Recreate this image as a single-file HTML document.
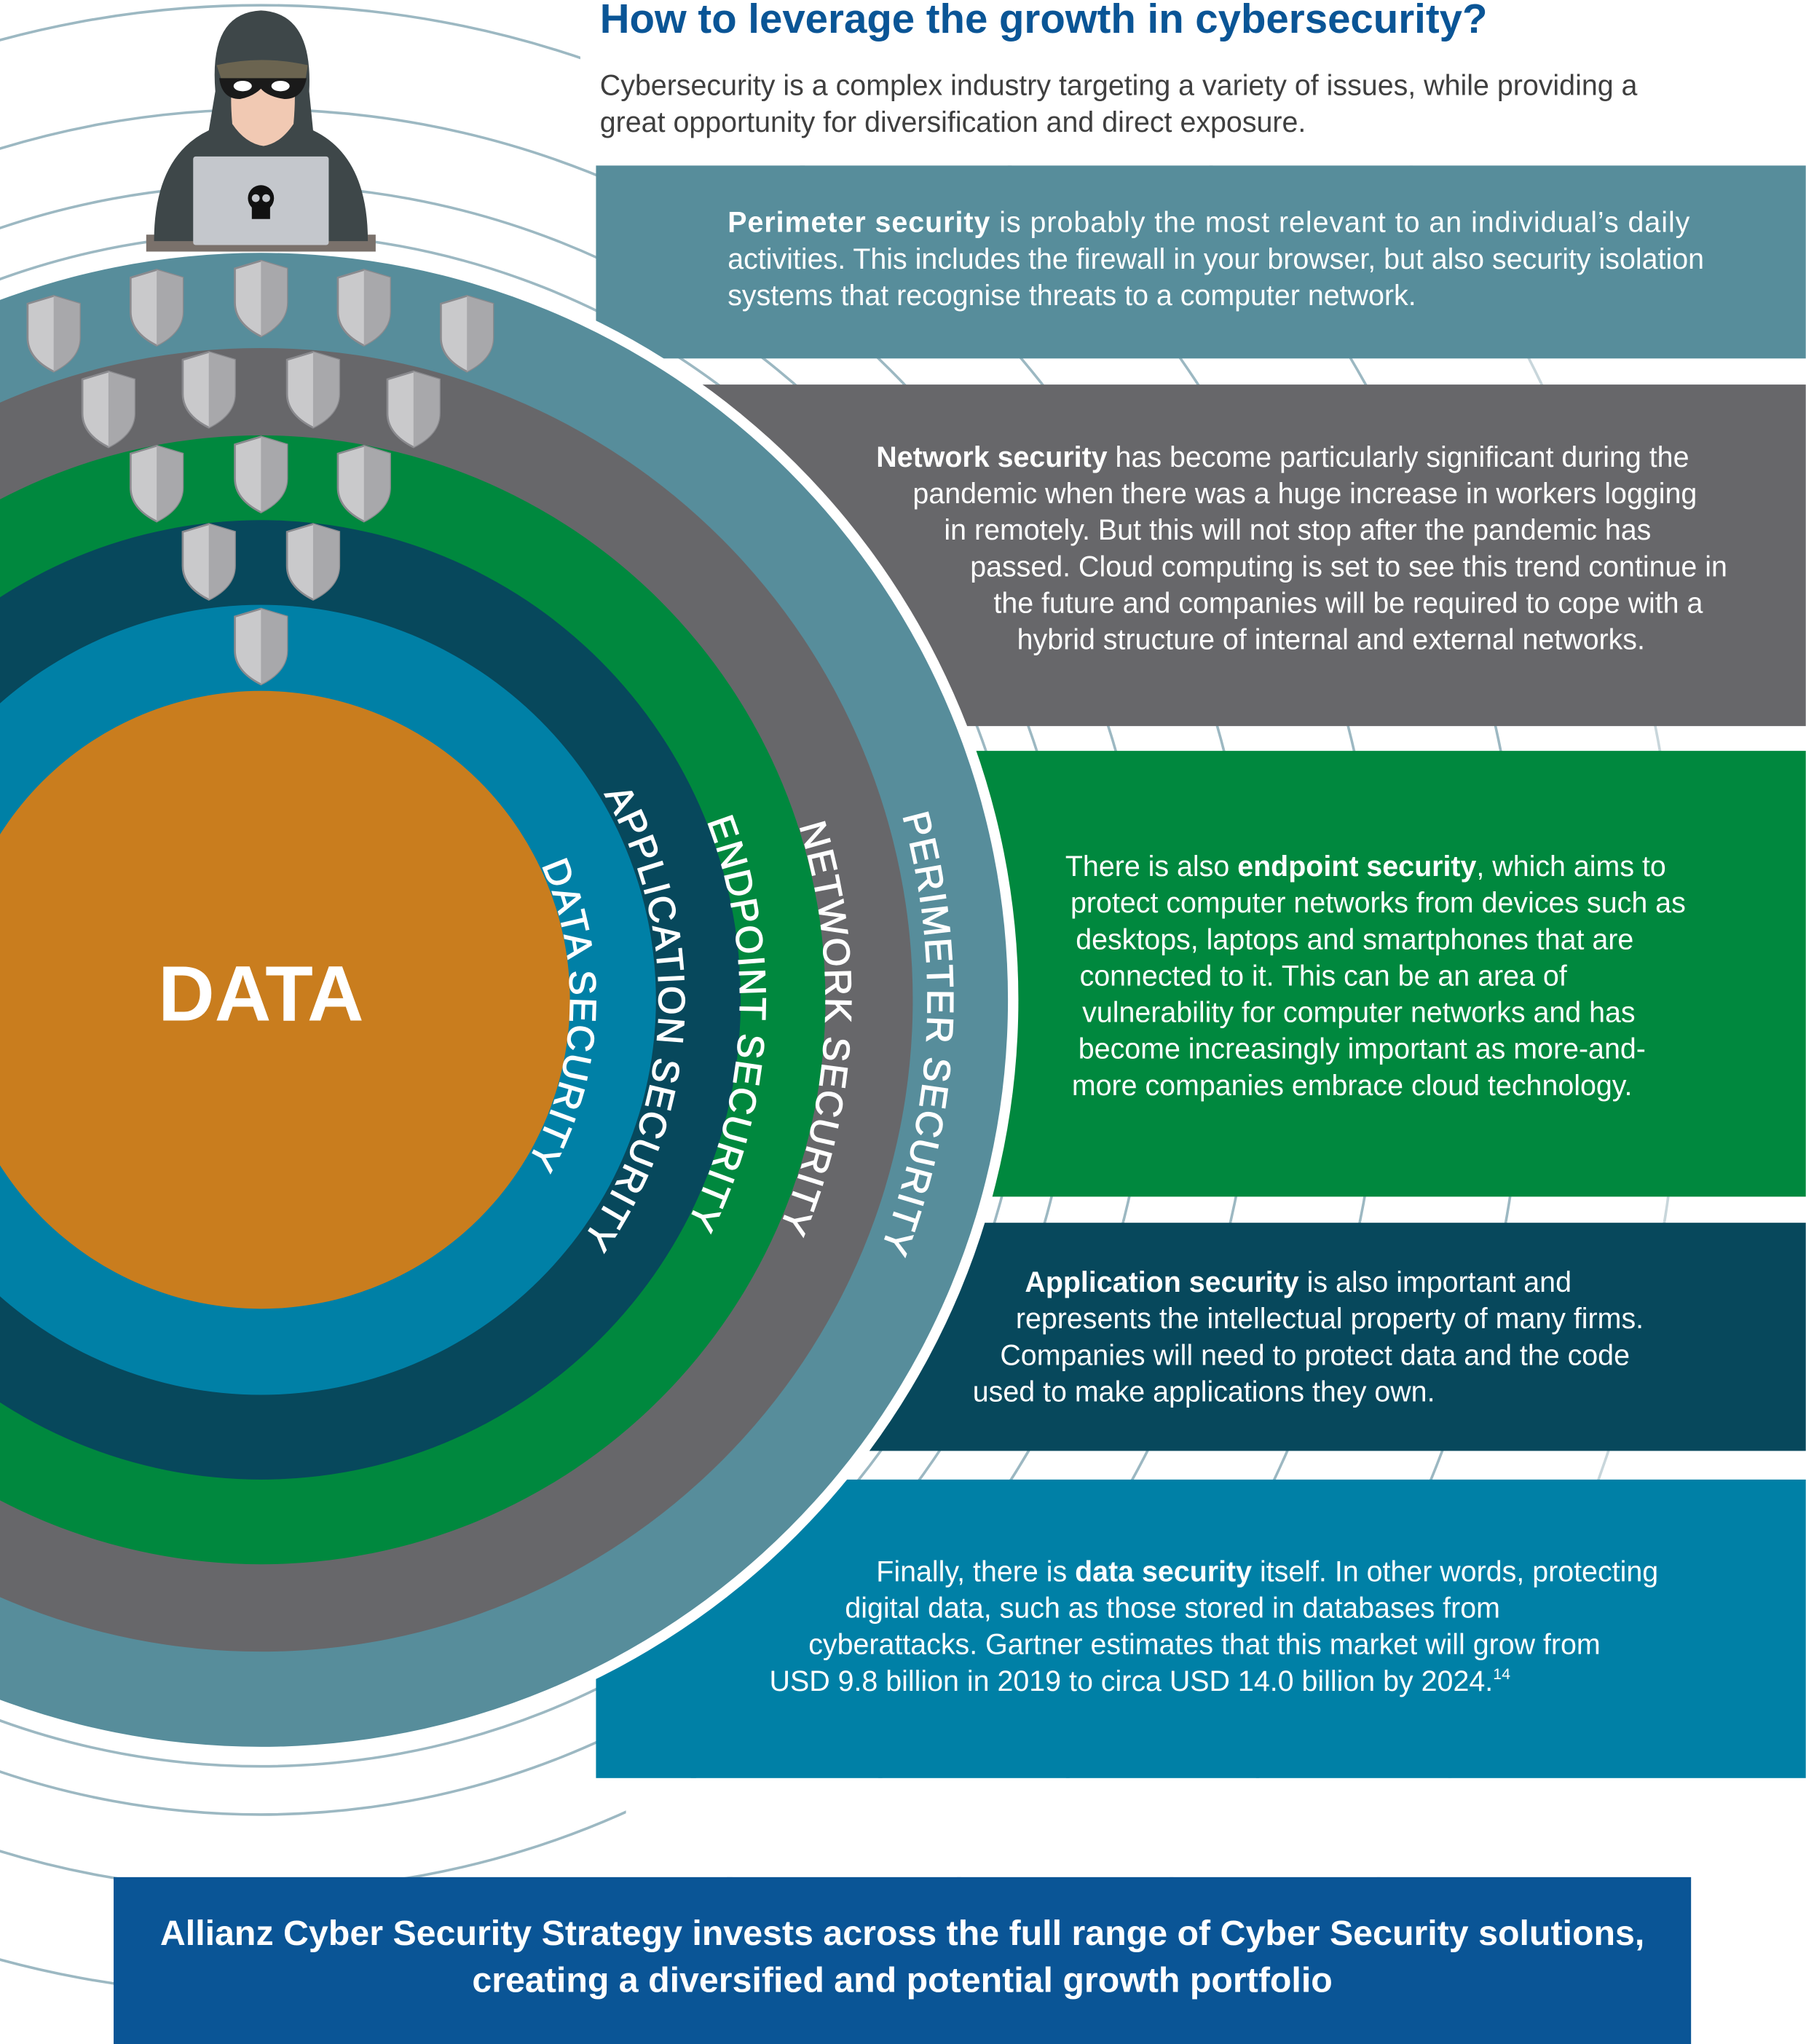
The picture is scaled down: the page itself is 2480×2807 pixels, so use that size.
<!DOCTYPE html>
<html><head><meta charset="utf-8"><style>
html,body{margin:0;padding:0;background:#fff;overflow:hidden;width:2480px;height:2807px;}
svg{display:block;}
text{font-family:"Liberation Sans",sans-serif;}
</style></head><body>
<svg width="2480" height="2807" viewBox="0 0 1385 1568" xmlns="http://www.w3.org/2000/svg">
<defs>
<g id="sh">
<path d="M-20,-22 L0,-28 L20,-22 L20,4 Q20,20 0,30 Q-20,20 -20,4 Z" fill="#c9c9cb" stroke="#8a8a8e" stroke-width="1.5"/>
<path d="M0,-28 L20,-22 L20,4 Q20,20 0,30 Z" fill="#a8a8ab"/>
</g>
</defs>
<g fill="none" stroke="#9cb8c2" stroke-width="2">
<circle cx="200" cy="767" r="588"/>
<circle cx="200" cy="767" r="625"/>
<circle cx="200" cy="767" r="683"/>
<circle cx="200" cy="767" r="763"/>
<circle cx="200" cy="767" r="860"/>
<circle cx="200" cy="767" r="970"/>
</g>
<g fill="none" stroke="#c8d6db" stroke-width="2">
<circle cx="200" cy="767" r="1090"/>
</g>
<rect x="445" y="0" width="940" height="127" fill="#fff"/>
<rect x="480" y="1364" width="905" height="76" fill="#fff"/>
<rect x="1297" y="1364" width="88" height="204" fill="#fff"/>
<rect x="457" y="127" width="928" height="148" fill="#578d9b"/>
<rect x="537" y="295" width="848" height="262" fill="#67676a"/>
<rect x="748" y="576" width="637" height="342" fill="#00883e"/>
<rect x="663" y="938" width="722" height="175" fill="#07485c"/>
<rect x="457" y="1135" width="928" height="229" fill="#0080a6"/>
<rect x="87" y="1440" width="1210" height="128" fill="#0a5596"/>
<circle cx="200" cy="767" r="581" fill="#fff"/>
<circle cx="200" cy="767" r="573" fill="#578d9b"/>
<circle cx="200" cy="767" r="500" fill="#67676a"/>
<circle cx="200" cy="767" r="433" fill="#00883e"/>
<circle cx="200" cy="767" r="368" fill="#07485c"/>
<circle cx="200" cy="767" r="303" fill="#0080a6"/>
<circle cx="200" cy="767" r="237" fill="#c97d1e"/>
<text x="200" y="783" text-anchor="middle" font-size="60" font-weight="bold" fill="#fff">DATA</text>
<g fill="#fff" stroke="#fff" stroke-width="0.7" font-size="28.5" letter-spacing="1.2">
<path id="p1" fill="none" stroke="none" d="M 459.5 317.5 A 527 527 0 0 1 459.5 1216.5"/>
<text><textPath href="#p1" startOffset="52.5%" text-anchor="middle">PERIMETER SECURITY</textPath></text>
<path id="p2" fill="none" stroke="none" d="M 421 385 A 450 450 0 0 1 421 1149"/>
<text><textPath href="#p2" startOffset="52.5%" text-anchor="middle">NETWORK SECURITY</textPath></text>
<path id="p3" fill="none" stroke="none" d="M 388 442 A 384 384 0 0 1 388 1092"/>
<text><textPath href="#p3" startOffset="52.5%" text-anchor="middle">ENDPOINT SECURITY</textPath></text>
<path id="p4" fill="none" stroke="none" d="M 356 498 A 317 317 0 0 1 356 1036"/>
<text><textPath href="#p4" startOffset="52.5%" text-anchor="middle">APPLICATION SECURITY</textPath></text>
<path id="p5" fill="none" stroke="none" d="M 323 556 A 252 252 0 0 1 323 978"/>
<text><textPath href="#p5" startOffset="52.5%" text-anchor="middle">DATA SECURITY</textPath></text>
</g>
<use href="#sh" x="41" y="255"/><use href="#sh" x="120" y="235"/><use href="#sh" x="200" y="228"/><use href="#sh" x="279" y="235"/><use href="#sh" x="358" y="255"/>
<use href="#sh" x="83" y="313"/><use href="#sh" x="160" y="298"/><use href="#sh" x="240" y="298"/><use href="#sh" x="317" y="313"/>
<use href="#sh" x="120" y="370"/><use href="#sh" x="200" y="363"/><use href="#sh" x="279" y="370"/>
<use href="#sh" x="160" y="430"/><use href="#sh" x="240" y="430"/>
<use href="#sh" x="200" y="495"/>
<rect x="112" y="180" width="176" height="13" fill="#7a716b"/>
<path d="M118,185 Q118,120 160,100 L165,70 Q160,10 200,8 Q240,10 237,70 L240,100 Q282,120 282,185 Z" fill="#3e4749"/>
<path d="M178,95 Q175,60 182,55 L222,55 Q228,60 225,95 Q215,110 202,112 Q188,110 178,95 Z" fill="#f1c9b3"/>
<path d="M166,50 Q200,42 236,50 L234,62 L170,62 Z" fill="#6b6450"/>
<path d="M168,60 L235,60 Q232,76 218,76 Q205,74 200,68 Q194,74 184,76 Q170,76 168,60 Z" fill="#1a1a1a"/>
<ellipse cx="186" cy="66" rx="7" ry="4" fill="#fff"/><ellipse cx="215" cy="66" rx="7" ry="4" fill="#fff"/>
<rect x="148" y="120" width="104" height="68" rx="2" fill="#c4c7cc"/>
<circle cx="200" cy="152" r="10" fill="#111"/><rect x="193" y="158" width="14" height="10" fill="#111"/>
<circle cx="196" cy="152" r="3" fill="#c4c7cc"/><circle cx="204" cy="152" r="3" fill="#c4c7cc"/>
<text x="460" y="25" font-size="31.5" font-weight="bold" fill="#0a5596">How to leverage the growth in cybersecurity?</text>
<g font-size="22" fill="#3f3f3f">
<text x="460" y="73">Cybersecurity is a complex industry targeting a variety of issues, while providing a</text>
<text x="460" y="101">great opportunity for diversification and direct exposure.</text>
</g>
<g font-size="22" fill="#fff">
<text x="558" y="178" textLength="738" lengthAdjust="spacing"><tspan font-weight="bold">Perimeter security</tspan> is probably the most relevant to an individual’s daily</text>
<text x="558" y="206">activities. This includes the firewall in your browser, but also security isolation</text>
<text x="558" y="234">systems that recognise threats to a computer network.</text>
<text x="672" y="358"><tspan font-weight="bold">Network security</tspan> has become particularly significant during the</text>
<text x="700" y="386">pandemic when there was a huge increase in workers logging</text>
<text x="724" y="414">in remotely. But this will not stop after the pandemic has</text>
<text x="744" y="442">passed. Cloud computing is set to see this trend continue in</text>
<text x="762" y="470">the future and companies will be required to cope with a</text>
<text x="780" y="498">hybrid structure of internal and external networks.</text>
<text x="817" y="672">There is also <tspan font-weight="bold">endpoint security</tspan>, which aims to</text>
<text x="821" y="700">protect computer networks from devices such as</text>
<text x="825" y="728">desktops, laptops and smartphones that are</text>
<text x="828" y="756">connected to it. This can be an area of</text>
<text x="830" y="784">vulnerability for computer networks and has</text>
<text x="827" y="812">become increasingly important as more-and-</text>
<text x="822" y="840">more companies embrace cloud technology.</text>
<text x="786" y="991"><tspan font-weight="bold">Application security</tspan> is also important and</text>
<text x="779" y="1019">represents the intellectual property of many firms.</text>
<text x="767" y="1047">Companies will need to protect data and the code</text>
<text x="746" y="1075">used to make applications they own.</text>
<text x="672" y="1213">Finally, there is <tspan font-weight="bold">data security</tspan> itself. In other words, protecting</text>
<text x="648" y="1241">digital data, such as those stored in databases from</text>
<text x="620" y="1269">cyberattacks. Gartner estimates that this market will grow from</text>
<text x="590" y="1297">USD 9.8 billion in 2019 to circa USD 14.0 billion by 2024.<tspan font-size="12" dy="-9">14</tspan></text>
</g>
<g font-size="27" font-weight="bold" fill="#fff" text-anchor="middle">
<text x="692" y="1492">Allianz Cyber Security Strategy invests across the full range of Cyber Security solutions,</text>
<text x="692" y="1528">creating a diversified and potential growth portfolio</text>
</g>
</svg>
</body></html>
